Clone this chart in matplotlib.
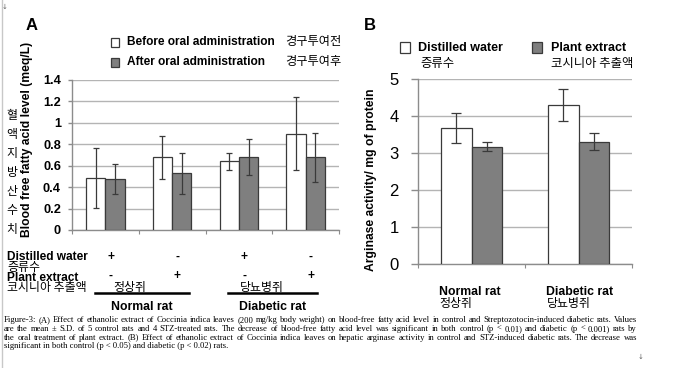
import matplotlib
matplotlib.use("Agg")
import matplotlib.pyplot as plt
import numpy as np
from matplotlib.lines import Line2D
from matplotlib.patches import Rectangle
import matplotlib.transforms as mtransforms

# ---------------- data ----------------
catsA = ["Normal rat / DW", "Normal rat / PE", "Diabetic rat / DW", "Diabetic rat / PE"]
before_vals = [0.49, 0.68, 0.64, 0.90]
before_err = [0.28, 0.20, 0.08, 0.34]
after_vals = [0.48, 0.53, 0.68, 0.68]
after_err = [0.14, 0.19, 0.17, 0.23]
distilled_signs = ["+", "-", "+", "-"]
plant_signs = ["-", "+", "-", "+"]
yticksA = [0, 0.2, 0.4, 0.6, 0.8, 1, 1.2, 1.4]
yticklabelsA = ["0", "0.2", "0.4", "0.6", "0.8", "1", "1.2", "1.4"]

catsB = ["Normal rat", "Diabetic rat"]
catsB_kr = ["정상쥐", "당뇨병쥐"]
distilled_vals = [3.68, 4.29]
distilled_err = [0.41, 0.43]
plant_vals = [3.17, 3.31]
plant_err = [0.12, 0.22]
yticksB = [0, 1, 2, 3, 4, 5]

caption_lines = [
    "Figure-3: (A) Effect of ethanolic extract of Coccinia indica leaves (200 mg/kg body weight) on blood-free fatty acid level in control and Streptozotocin-induced diabetic rats. Values",
    "are the mean \u00b1 S.D. of 5 control rats and 4 STZ-treated rats. The decrease of blood-free fatty acid level was significant in both control (p < 0.01) and diabetic (p < 0.001) rats by",
    "the oral treatment of plant extract. (B) Effect of ethanolic extract of Coccinia indica leaves on hepatic arginase activity in control and STZ-induced diabetic rats. The decrease was",
    "significant in both control (p < 0.05) and diabetic (p < 0.02) rats.",
]

# ---------------- style ----------------
W, H = 700, 368
fig = plt.figure(figsize=(W / 100, H / 100), dpi=100)
fig.patch.set_facecolor("white")

def fx(px):
    return px / W

def fy(py):
    return 1 - py / H

SANS = ["Liberation Sans", "Noto Sans CJK KR"]
KR = ["Noto Sans CJK KR"]
WHITE = "white"
GRAY = "#7f7f7f"
EDGE = "#3a3a3a"
GRID = "#b4b4b4"
AXC = "#8c8c8c"
KFS = 8.6     # Korean font size
BFS = 8.6     # bold label font size

def style_axes(ax, tl):
    for s in ["top", "right"]:
        ax.spines[s].set_visible(False)
    for s in ["left", "bottom"]:
        ax.spines[s].set_color(AXC)
        ax.spines[s].set_linewidth(1.0)
    ax.yaxis.grid(True, color=GRID, linewidth=1.0)
    ax.set_axisbelow(True)
    ax.tick_params(axis="y", length=tl, color=AXC, width=1.0)
    ax.tick_params(axis="x", length=3, color=AXC, labelbottom=False)

# ---------------- panel A ----------------
axA = fig.add_axes([fx(72), fy(230), fx(339) - fx(72), fy(80) - fy(230)])
xA = np.arange(len(catsA))
bw = 0.29
ekA = dict(ecolor=EDGE, elinewidth=0.9, capsize=2.5, capthick=0.9)
axA.bar(xA - bw / 2, before_vals, bw, yerr=before_err, color=WHITE, edgecolor=EDGE,
        linewidth=0.9, error_kw=ekA, zorder=3)
axA.bar(xA + bw / 2, after_vals, bw, yerr=after_err, color=GRAY, edgecolor=EDGE,
        linewidth=0.9, error_kw=ekA, zorder=3)
axA.set_xlim(-0.5, 3.5)
axA.set_ylim(0, 1.4)
axA.set_yticks(yticksA)
axA.set_yticklabels(yticklabelsA, fontsize=9.2, fontweight="bold", family=SANS)
style_axes(axA, 3)
axA.tick_params(axis="y", pad=5)
axA.set_xticks([-0.5, 0.5, 1.5, 2.5, 3.5])
fig.text(fx(27), fy(139), "Blood free fatty acid level (meq/L)", fontsize=8.7,
         fontweight="bold", family=SANS, rotation=90, ha="center", va="center")

# sign rows
blendA = mtransforms.blended_transform_factory(axA.transData, fig.transFigure)
for i in range(len(catsA)):
    axA.text(xA[i] + 0.08, fy(257), distilled_signs[i], transform=blendA, ha="center",
             va="center", fontsize=BFS, fontweight="bold", family=SANS)
    axA.text(xA[i] + 0.08, fy(276), plant_signs[i], transform=blendA, ha="center",
             va="center", fontsize=BFS, fontweight="bold", family=SANS)
for x0, x1 in [(-0.15, 1.26), (1.83, 3.17)]:
    fig.add_artist(Line2D([x0, x1], [fy(293), fy(293)], transform=blendA, color="black",
                          linewidth=1.8))

fig.text(fx(7), fy(257), "Distilled water", fontsize=BFS, fontweight="bold", family=SANS,
         va="center", ha="left")
fig.text(fx(7), fy(267.5), "증류수", fontsize=KFS, family=KR, va="center", ha="left")
fig.text(fx(7), fy(278), "Plant extract", fontsize=BFS, fontweight="bold", family=SANS,
         va="center", ha="left")
fig.text(fx(7), fy(287.5), "코시니아 추출액", fontsize=KFS, family=KR, va="center", ha="left")
fig.text(fx(113), fy(287), "정상쥐", fontsize=KFS, family=KR, va="center", ha="left")
fig.text(fx(240), fy(287), "당뇨병쥐", fontsize=KFS, family=KR, va="center", ha="left")
fig.text(fx(142), fy(307), "Normal rat", fontsize=8.8, fontweight="bold", family=SANS,
         va="center", ha="center")
fig.text(fx(273), fy(307), "Diabetic rat", fontsize=8.8, fontweight="bold", family=SANS,
         va="center", ha="center")

# vertical Korean label
for j, ch in enumerate("혈액지방산수치"):
    fig.text(fx(12), fy(115 + j * 19.1), ch, fontsize=KFS, family=KR, ha="center",
             va="center")

# panel label & legend
fig.text(fx(32), fy(25), "A", fontsize=12, fontweight="bold", family=SANS, ha="center",
         va="center")
for yy, fc, lab, kr in [(42, WHITE, "Before oral administration", "경구투여전"),
                        (62, GRAY, "After oral administration", "경구투여후")]:
    fig.add_artist(Rectangle((fx(111), fy(yy + 4.5)), fx(8), fy(0) - fy(8.5),
                             transform=fig.transFigure, facecolor=fc, edgecolor=EDGE,
                             linewidth=0.9))
    fig.text(fx(127), fy(yy), lab, fontsize=8.6, fontweight="bold", family=SANS,
             va="center", ha="left")
    fig.text(fx(285), fy(yy - 1), kr, fontsize=8.8, family=KR, va="center", ha="left")

# ---------------- panel B ----------------
axB = fig.add_axes([fx(418), fy(264), fx(632) - fx(418), fy(79) - fy(264)])
xB = np.arange(len(catsB))
bwB = 0.285
ekB = dict(ecolor=EDGE, elinewidth=0.9, capsize=3.5, capthick=0.9)
axB.bar(xB - bwB / 2, distilled_vals, bwB, yerr=distilled_err, color=WHITE, edgecolor=EDGE,
        linewidth=0.9, error_kw=ekB, zorder=3)
axB.bar(xB + bwB / 2, plant_vals, bwB, yerr=plant_err, color=GRAY, edgecolor=EDGE,
        linewidth=0.9, error_kw=ekB, zorder=3)
axB.set_xlim(-0.5, 1.5)
axB.set_ylim(0, 5)
axB.set_yticks(yticksB)
axB.set_yticklabels([str(v) for v in yticksB], fontsize=12, family=SANS)
style_axes(axB, 5)
axB.tick_params(axis="y", pad=9)
axB.set_xticks([-0.5, 0.5, 1.5])
fig.text(fx(371), fy(180), "Arginase activity/ mg of protein", fontsize=8.7,
         fontweight="bold", family=SANS, rotation=90, ha="center", va="center")

blendB = mtransforms.blended_transform_factory(axB.transData, fig.transFigure)
for i in range(len(catsB)):
    axB.text(xB[i] - bwB * 1.05, fy(292), catsB[i], transform=blendB, ha="left",
             va="center", fontsize=8.8, fontweight="bold", family=SANS)
    axB.text(xB[i] - bwB * 1.05, fy(303), catsB_kr[i], transform=blendB, ha="left",
             va="center", fontsize=KFS, family=KR)

fig.text(fx(370), fy(25), "B", fontsize=12, fontweight="bold", family=SANS, ha="center",
         va="center")
for x0, fc in [(400, WHITE), (532, GRAY)]:
    fig.add_artist(Rectangle((fx(x0), fy(53)), fx(10), fy(0) - fy(10.5),
                             transform=fig.transFigure, facecolor=fc, edgecolor=EDGE,
                             linewidth=0.9))
fig.text(fx(418), fy(48), "Distilled water", fontsize=9, fontweight="bold", family=SANS,
         va="center", ha="left")
fig.text(fx(420), fy(64), "증류수", fontsize=KFS + 0.3, family=KR, va="center", ha="left")
fig.text(fx(551), fy(48), "Plant extract", fontsize=9, fontweight="bold", family=SANS,
         va="center", ha="left")
fig.text(fx(551), fy(64), "코시니아 추출액", fontsize=KFS + 0.3, family=KR, va="center",
         ha="left")

# ---------------- page decorations ----------------
fig.add_artist(Line2D([fx(2), fx(2)], [0, 1], transform=fig.transFigure, color="#c8c8c8",
                      linewidth=1))
fig.text(fx(5), fy(7), "\u2193", fontsize=5, color="#606060", ha="center", va="center",
         family=["DejaVu Sans"])
fig.text(fx(641), fy(357), "\u2193", fontsize=5, color="#606060", ha="center", va="center",
         family=["DejaVu Sans"])

# ---------------- caption (justified) ----------------
renderer = fig.canvas.get_renderer()
cap_left, cap_right = 4, 637
cap_base = [322.5, 331, 339.5, 348]   # baselines in pixels
SERIF = ["Liberation Serif"]
probe = fig.text(0, 0, caption_lines[0], fontsize=10, family=SERIF)
w10 = probe.get_window_extent(renderer).width
probe.remove()
cap_fs = min(10 * (cap_right - cap_left) / w10 * 0.98, 6.6)
for li, line in enumerate(caption_lines):
    if li == len(caption_lines) - 1:
        fig.text(fx(cap_left), fy(cap_base[li]), line, fontsize=cap_fs, family=SERIF,
                 ha="left", va="baseline")
        continue
    words = line.split(" ")
    arts, widths = [], []
    for w in words:
        t = fig.text(0, 0, w, fontsize=cap_fs, family=SERIF, ha="left", va="baseline")
        arts.append(t)
        widths.append(t.get_window_extent(renderer).width)
    gap = (cap_right - cap_left - sum(widths)) / (len(words) - 1)
    xx = cap_left
    for t, wd in zip(arts, widths):
        t.set_position((fx(xx), fy(cap_base[li])))
        xx += wd + gap

fig.savefig("out.png", dpi=100)
